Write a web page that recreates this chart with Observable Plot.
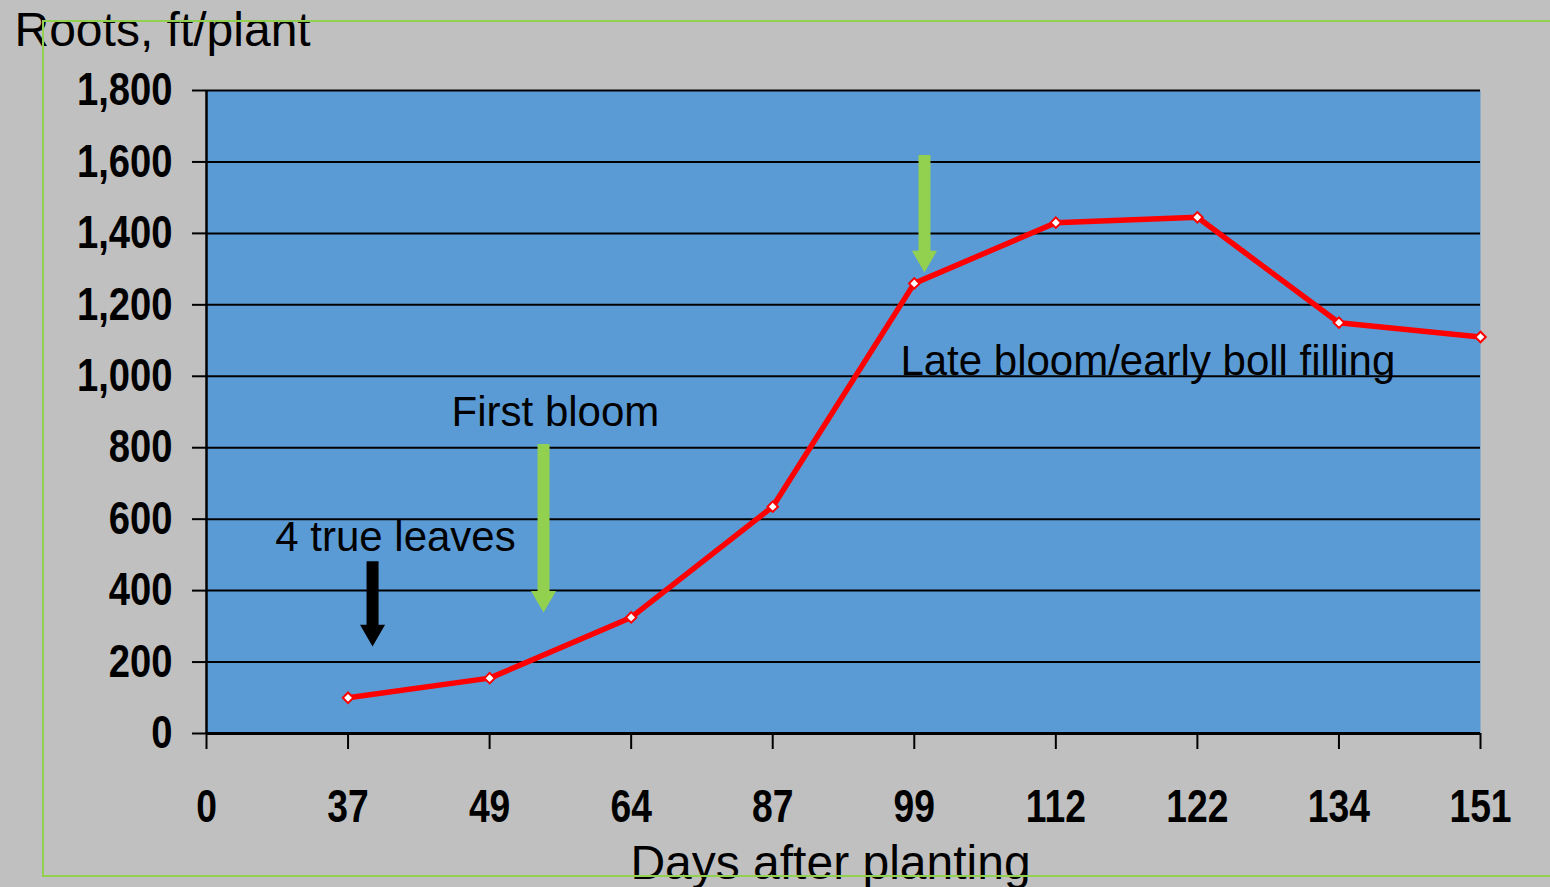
<!DOCTYPE html>
<html><head><meta charset="utf-8">
<script src="https://cdn.jsdelivr.net/npm/d3@7"></script>
<script src="https://cdn.jsdelivr.net/npm/@observablehq/plot@0.6"></script>
<style>
html,body{margin:0;padding:0;background:#c0c0c0;width:1550px;height:887px;overflow:hidden;}
#wrap{position:relative;width:1550px;height:887px;}
#border{position:absolute;left:42px;top:20px;width:1530px;height:857px;border:2px solid #92d050;box-sizing:border-box;pointer-events:none;}
#chart{position:absolute;left:0;top:0;}
</style></head>
<body><div id="wrap"><div id="chart"></div><div id="border"></div></div>
<script>
const dayLabels = ["0","37","49","64","87","99","112","122","134","151"];
const roots = [100, 155, 325, 635, 1260, 1430, 1445, 1150, 1110];
const yTicks = [0,200,400,600,800,1000,1200,1400,1600,1800];
const notes = [
  {text:"4 true leaves", x:1.335, y:549},
  {text:"First bloom", x:2.465, y:899},
  {text:"Late bloom/early boll filling", x:6.65, y:1041}
];
const arrows = [
  {x:1.173, top:481, bottom:300, head:284, color:"#000000"},
  {x:2.381, top:809, bottom:386, head:379, color:"#92d050"},
  {x:5.072, top:1618, bottom:1324, head:1331, color:"#92d050"}
];
const data = roots.map((v,i)=>({x:i+1, y:v}));
const chart = Plot.plot({
  width:1550, height:887,
  marginLeft:206, marginRight:70, marginTop:90, marginBottom:154,
  style:{background:"transparent", fontFamily:"'Liberation Sans',Arial,sans-serif", color:"#000", overflow:"visible"},
  x:{type:"linear", domain:[0,9], axis:null},
  y:{domain:[0,1800], axis:null},
  marks:[
    Plot.frame({fill:"#5b9bd5", stroke:null}),
    Plot.ruleY(yTicks, {stroke:"#000", strokeWidth:2}),
    Plot.ruleX([0], {stroke:"#000", strokeWidth:2.5}),
    Plot.ruleY([0], {stroke:"#000", strokeWidth:3}),
    Plot.axisY({ticks:yTicks, tickSize:14, tickPadding:20, tickFormat:d3.format(","), fontSize:46, fontWeight:"bold", label:null, strokeWidth:2}),
    Plot.axisX({ticks:d3.range(10), tickSize:16, tickPadding:40, tickFormat:i=>dayLabels[i], fontSize:46, fontWeight:"bold", label:null, strokeWidth:2}),
    Plot.line(data, {x:"x", y:"y", stroke:"#ff0000", strokeWidth:5.5}),
    Plot.dot(data, {x:"x", y:"y", symbol:"square", rotate:45, r:4.2, fill:"#fff", stroke:"#ff0000", strokeWidth:2}),
    Plot.ruleX(arrows, {x:"x", y1:"top", y2:"bottom", stroke:"color", strokeWidth:12}),
    Plot.dot(arrows, {x:"x", y:"head", symbol:"triangle", rotate:180, r:9.3, fill:"color", stroke:null}),
    Plot.text(notes, {x:"x", y:"y", text:"text", fontSize:42, fill:"#000", textAnchor:"middle"}),
    Plot.text(["Roots, ft/plant"], {frameAnchor:"top-left", textAnchor:"start", lineAnchor:"top", dx:-192, dy:-79, fontSize:48, fill:"#000"}),
    Plot.text(["Days after planting"], {frameAnchor:"bottom", textAnchor:"middle", lineAnchor:"top", dx:-13, dy:111, fontSize:48, fill:"#000"})
  ]
});
// condensed look of the tick labels (narrow bold face in the original)
chart.querySelectorAll('g[aria-label="y-axis tick label"] text').forEach(t => {
  t.setAttribute("transform", (t.getAttribute("transform") || "") + " scale(0.83,1)");
});
chart.querySelectorAll('g[aria-label="x-axis tick label"] text').forEach(t => {
  t.setAttribute("transform", (t.getAttribute("transform") || "") + " scale(0.81,1)");
});
document.getElementById("chart").appendChild(chart);
</script></body></html>
